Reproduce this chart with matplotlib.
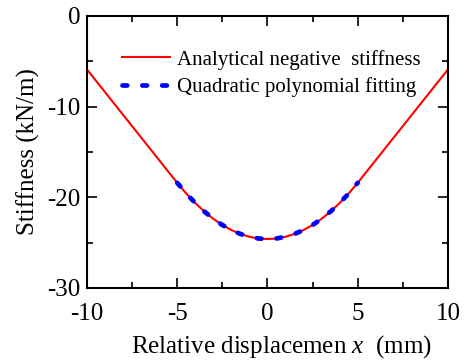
import numpy as np
import matplotlib
matplotlib.use("Agg")
import matplotlib.pyplot as plt
from matplotlib.ticker import MultipleLocator

plt.rcParams['font.family'] = ['Liberation Serif', 'DejaVu Serif']
plt.rcParams['mathtext.fontset'] = 'custom'
plt.rcParams['mathtext.rm'] = 'Liberation Serif'
plt.rcParams['mathtext.it'] = 'Liberation Serif:italic'
plt.rcParams['axes.unicode_minus'] = False

# analytical negative stiffness (kN/m) vs relative displacement (mm)
x_analytical = [-10, -9.5, -9, -8.5, -8, -7.5, -7, -6.5, -6, -5.5, -5, -4.5, -4, -3.5, -3,
                -2.5, -2, -1.5, -1, -0.5, 0, 0.5, 1, 1.5, 2, 2.5, 3, 3.5, 4, 4.5, 5,
                5.5, 6, 6.5, 7, 7.5, 8, 8.5, 9, 9.5, 10]
y_analytical = [-5.9, -7.15, -8.4, -9.65, -10.9, -12.15, -13.4, -14.65, -15.9, -17.15, -18.4,
                -19.58, -20.63, -21.56, -22.37, -23.05, -23.61, -24.04, -24.35, -24.54, -24.6,
                -24.54, -24.35, -24.04, -23.61, -23.05, -22.37, -21.56, -20.63, -19.58, -18.4,
                -17.15, -15.9, -14.65, -13.4, -12.15, -10.9, -9.65, -8.4, -7.15, -5.9]

# quadratic polynomial fitting, only over -5..5 mm
x_fit = [-5, -4.5, -4, -3.5, -3, -2.5, -2, -1.5, -1, -0.5, 0, 0.5, 1, 1.5, 2, 2.5, 3, 3.5, 4, 4.5, 5]
y_fit = [-18.4, -19.58, -20.63, -21.56, -22.37, -23.05, -23.61, -24.04, -24.35, -24.54, -24.6,
         -24.54, -24.35, -24.04, -23.61, -23.05, -22.37, -21.56, -20.63, -19.58, -18.4]

fig = plt.figure(figsize=(4.74, 3.6), dpi=100)
ax = fig.add_axes([0.1835, 0.2, 0.7615, 0.7556])

ax.plot(x_analytical, y_analytical, color='red', lw=1.5, label='Analytical negative  stiffness')
ax.plot(x_fit, y_fit, color='blue', lw=3.4, linestyle=(0, (1.0, 3.2)),
        dash_capstyle='round', label='Quadratic polynomial fitting')

ax.set_xlim(-10, 10)
ax.set_ylim(-30, 0)
ax.xaxis.set_major_locator(MultipleLocator(5))
ax.xaxis.set_minor_locator(MultipleLocator(2.5))
ax.yaxis.set_major_locator(MultipleLocator(10))
ax.yaxis.set_minor_locator(MultipleLocator(5))
ax.tick_params(which='both', direction='in', top=True, right=True, width=1.2, labelsize=18)
ax.tick_params(which='major', length=7)
ax.tick_params(which='minor', length=4.3)
ax.tick_params(axis='x', pad=11)
ax.tick_params(axis='y', pad=5)
for s in ax.spines.values():
    s.set_linewidth(1.5)

ax.set_xlabel(r'Relative displacemen $x$  (mm)', fontsize=18)
ax.xaxis.set_label_coords(0.54, -0.165)
ax.set_ylabel('Stiffness (kN/m)', fontsize=18, labelpad=5)

ax.legend(loc='upper left', bbox_to_anchor=(0.045, 0.945), frameon=False, fontsize=15,
          handlelength=2.3, handletextpad=0.35, labelspacing=0.35)

fig.savefig('out.png', dpi=100)
